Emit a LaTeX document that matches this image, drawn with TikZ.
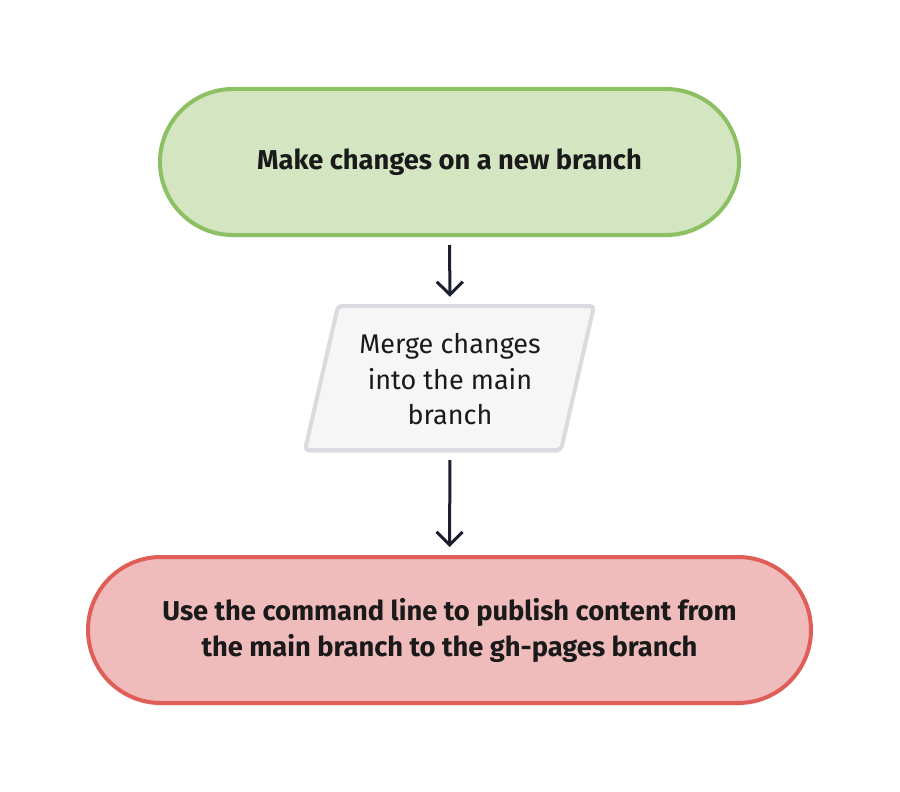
\documentclass[tikz,border=0pt]{standalone}
\usepackage{fontspec}
\setmainfont{Fira Sans}
\usetikzlibrary{arrows.meta,shadows,calc}
\definecolor{gfill}{HTML}{D3E5C1}
\definecolor{gline}{HTML}{8CC063}
\definecolor{rfill}{HTML}{EFBBBB}
\definecolor{rline}{HTML}{DF5E58}
\definecolor{pfill}{HTML}{F6F6F6}
\definecolor{pline}{HTML}{DADAE0}
\definecolor{txt}{HTML}{1A1A1A}
\definecolor{arr}{HTML}{1B1E2E}
\tikzset{
  stadium/.style={draw, line width=4pt, rounded corners=73pt, minimum height=146pt,
    align=center, text=txt, font=\fontsize{27.3}{36}\selectfont\bfseries,
    drop shadow={opacity=0.08, shadow xshift=0pt, shadow yshift=-3pt}},
  flowarrow/.style={draw=arr, line width=3pt, -{Straight Barb[length=13pt,width=26pt,line width=3pt]}},
}
\begin{document}
\begin{tikzpicture}[x=1pt,y=-1pt]
\useasboundingbox[fill=white] (0,0) rectangle (900,792);
\node[stadium, fill=gfill, draw=gline, minimum width=579pt] (make) at (449.5,162) {\raisebox{-2pt}{Make changes on a new branch}};
\node[stadium, fill=rfill, draw=rline, minimum width=723pt] (publish) at (449.5,630)
  {\raisebox{-2pt}{Use the command line to publish content from}\\\raisebox{-2pt}{the main branch to the gh-pages branch}};
\node[minimum width=256pt, minimum height=144pt, inner sep=0pt] (merge) at (450,378) {};
\fill[black, opacity=0.06, rounded corners=4pt] (338,309) -- (594,309) -- (561,453) -- (305,453) -- cycle;
\draw[draw=pline, fill=pfill, line width=4pt, rounded corners=4pt]
  (338,306) -- (594,306) -- (561,450) -- (305,450) -- cycle;
\node[align=center, text=txt, font=\fontsize{27}{35.5}\selectfont, yshift=-1.5pt] at (merge.center) {Merge changes\\into the main\\branch};
\draw[flowarrow, shorten <=8pt, shorten >=9pt] (make.south) -- (merge.north);
\draw[flowarrow, shorten <=10pt, shorten >=8pt] (merge.south) -- (publish.north);
\end{tikzpicture}
\end{document}
